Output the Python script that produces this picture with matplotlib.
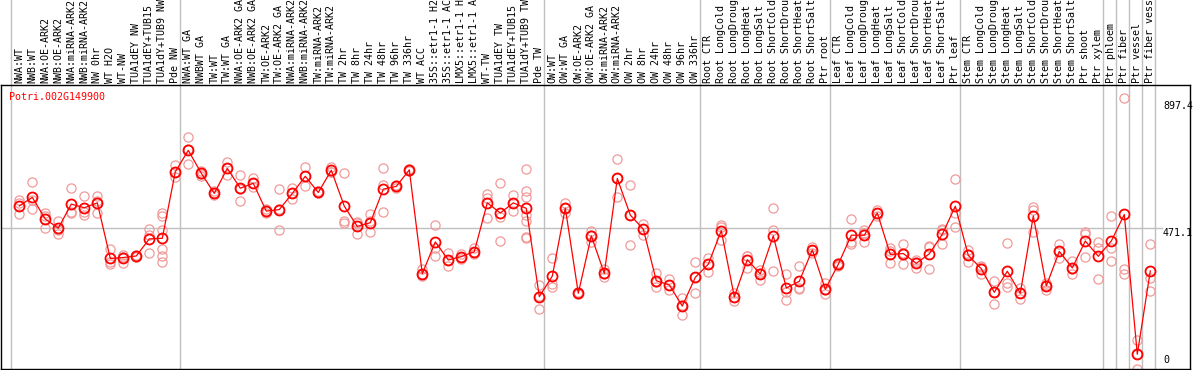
import numpy as np
import matplotlib.pyplot as plt
import matplotlib.transforms as mtransforms

# -----------------------------------------------------------------------------
# data
# -----------------------------------------------------------------------------

gene = 'Potri.002G149900'

labels = [
    'NWA:WT', 'NWB:WT', 'NWA:OE-ARK2', 'NWB:OE-ARK2', 'NWA:miRNA-ARK2',
    'NWB:miRNA-ARK2', 'NW 0hr', 'WT H2O', 'WT-NW', 'TUA1dEY NW',
    'TUA1dEY+TUB15 NW', 'TUA1dY+TUB9 NW', 'Pde NW',
    'NWA:WT GA', 'NWBWT GA', 'TW:WT', 'TW:WT GA', 'NWA:OE-ARK2 GA',
    'NWB:OE-ARK2 GA', 'TW:OE-ARK2', 'TW:OE-ARK2 GA', 'NWA:miRNA-ARK2 GA',
    'NWB:miRNA-ARK2 GA', 'TW:miRNA-ARK2', 'TW:miRNA-ARK2 GA', 'TW 2hr',
    'TW 8hr', 'TW 24hr', 'TW 48hr', 'TW 96hr', 'TW 336hr', 'WT ACC',
    '35S::etr1-1 H2O', '35S::etr1-1 ACC', 'LMX5::etr1-1 H2O',
    'LMX5::etr1-1 ACC', 'WT-TW', 'TUA1dEY TW', 'TUA1dEY+TUB15 TW',
    'TUA1dY+TUB9 TW', 'Pde TW',
    'OW:WT', 'OW:WT GA', 'OW:OE-ARK2', 'OW:OE-ARK2 GA', 'OW:miRNA-ARK2',
    'OW:miRNA-ARK2 GA', 'OW 2hr', 'OW 8hr', 'OW 24hr', 'OW 48hr', 'OW 96hr',
    'OW 336hr',
    'Root CTR', 'Root LongCold', 'Root LongDrought', 'Root LongHeat',
    'Root LongSalt', 'Root ShortCold', 'Root ShortDrought', 'Root ShortHeat',
    'Root ShortSalt', 'Ptr root',
    'Leaf CTR', 'Leaf LongCold', 'Leaf LongDrought', 'Leaf LongHeat',
    'Leaf LongSalt', 'Leaf ShortCold', 'Leaf ShortDrought', 'Leaf ShortHeat',
    'Leaf ShortSalt', 'Ptr leaf',
    'Stem CTR', 'Stem LongCold', 'Stem LongDrought', 'Stem LongHeat',
    'Stem LongSalt', 'Stem ShortCold', 'Stem ShortDrought', 'Stem ShortHeat',
    'Stem ShortSalt', 'Ptr shoot', 'Ptr xylem',
    'Ptr phloem', 'Ptr fiber', 'Ptr vessel', 'Ptr fiber vessel',
]

group_sizes = [13, 28, 12, 10, 10, 11, 1, 1, 1, 1]

means = [
    544, 572, 501, 471, 550, 538, 554, 372, 375, 380, 436, 438, 656,
    726, 651, 585, 667, 602, 618, 527, 532, 585, 641, 588, 661, 543, 477,
    489, 599, 608, 662, 322, 426, 367, 378, 394, 554, 521, 554, 536, 247,
    314, 537, 258, 446, 323, 634, 514, 468, 299, 285, 216, 310, 353, 463,
    246, 368, 321, 446,
    275, 297, 400, 271, 353, 448, 448, 521, 385, 388, 356, 387, 451, 543,
    382, 338, 261, 330, 258, 511, 282, 395, 341, 429, 379, 429, 516, 58, 331,
]

replicates = [
    [563, 552, 516], [621, 565, 533], [520, 512, 471], [495, 466, 451],
    [602, 525, 520], [575, 525, 514], [578, 560, 521], [403, 361, 353],
    [382, 376, 358], [382, 380, 376], [468, 448, 389],
    [520, 512, 465, 403, 381, 359], [678, 655, 638],
    [769, 730, 680], [660, 650, 643], [592, 585, 580], [689, 667, 645],
    [645, 600, 560], [634, 618, 607], [535, 527, 520], [598, 533, 464],
    [604, 585, 567], [672, 641, 610], [592, 588, 585], [672, 656, 654],
    [651, 495, 487], [492, 488, 451], [516, 494, 458], [667, 613, 523],
    [612, 608, 604], [665, 662, 658], [337, 322, 315], [482, 405, 379],
    [389, 367, 347], [385, 378, 370], [405, 394, 386], [582, 571, 506],
    [619, 509, 429], [580, 554, 527],
    [665, 593, 573, 514, 495, 443, 438], [285, 248, 206],
    [373, 287, 280], [554, 537, 520], [262, 258, 254], [462, 450, 425],
    [337, 322, 312], [698, 634, 572], [612, 515, 416], [484, 470, 449],
    [323, 296, 280], [304, 285, 268], [241, 221, 187], [359, 312, 258],
    [372, 355, 329], [482, 475, 431], [258, 245, 234], [381, 380, 342],
    [335, 325, 302], [536, 465, 331],
    [320, 263, 236], [346, 274, 271], [410, 400, 390], [290, 270, 254],
    [358, 352, 348], [500, 427, 418], [464, 455, 425], [530, 521, 512],
    [405, 395, 356], [418, 390, 355], [367, 360, 341], [412, 410, 336],
    [468, 466, 418], [631, 520, 474],
    [401, 386, 359], [347, 345, 322], [299, 261, 224], [422, 293, 277],
    [276, 258, 238], [542, 531, 460], [290, 285, 269], [418, 396, 372],
    [364, 336, 322], [460, 452, 376], [427, 405, 305],
    [511, 407, 364], [897.4, 337, 320], [105, 58, 10], [418, 309, 265],
]

tick_values = [897.4, 471.1, 0]

# -----------------------------------------------------------------------------
# figure
# -----------------------------------------------------------------------------

W, H = 1194, 370
fig = plt.figure(figsize=(W / 100, H / 100), dpi=100)

# plot box: x 1..1190, y 85..369 (pixels from top)
ax = fig.add_axes([1 / W, (H - 369) / H, 1189 / W, 284 / H])

red = '#ff0000'
pink = '#f09a9a'
mono = 'DejaVu Sans Mono'

x = np.arange(len(labels))

# replicates
for i, reps in enumerate(replicates):
    ax.plot([i] * len(reps), reps, linestyle='none', marker='o', ms=6.6,
            mfc='none', mec=pink, mew=0.9, zorder=2, clip_on=True)

# mean line
ax.plot(x, means, color=red, lw=0.9, marker='o', ms=7.2, mfc='none',
        mec=red, mew=1.3, zorder=3)

ax.set_xlim((1 - 19.3) / 13, (1190 - 19.3) / 13)
ax.set_ylim(9.8, 940.1)

# horizontal guide at the middle value
ax.axhline(tick_values[1], xmin=0, xmax=(1162 - 1) / 1189, color='#c0c0c0',
           lw=1, zorder=1)

# group separators, running up through the label band
starts = np.concatenate([[0], np.cumsum(group_sizes)])
for s in starts:
    ax.axvline(s - 0.65, ymin=0, ymax=1.31, color='#c0c0c0', lw=1,
               zorder=1, clip_on=False)

# column labels
for i, lab in enumerate(labels):
    ax.text(i, 1.007, lab, transform=ax.get_xaxis_transform(), rotation=90,
            ha='center', va='bottom', fontsize=7.2, family=mono,
            color='black', clip_on=False)

# gene name
ax.text(8.5 / 1189, 0.958, gene, transform=ax.transAxes,
        ha='left', va='center', fontsize=7.2, family=mono, color=red)

# value labels on the right
tr = mtransforms.blended_transform_factory(ax.transAxes, ax.transData)
xl = (1163 - 1) / 1189
ax.text(xl, 0.943, '897.4', transform=ax.transAxes, ha='left', va='top',
        fontsize=7.2, family=mono)
ax.text(xl, tick_values[1], '471.1', transform=tr, ha='left', va='top',
        fontsize=7.2, family=mono)
ax.text(xl, 0.015, '0', transform=ax.transAxes, ha='left', va='bottom',
        fontsize=7.2, family=mono)

ax.set_xticks([])
ax.set_yticks([])
for sp in ax.spines.values():
    sp.set_color('black')
    sp.set_linewidth(1)

fig.savefig('out.png', dpi=100)
